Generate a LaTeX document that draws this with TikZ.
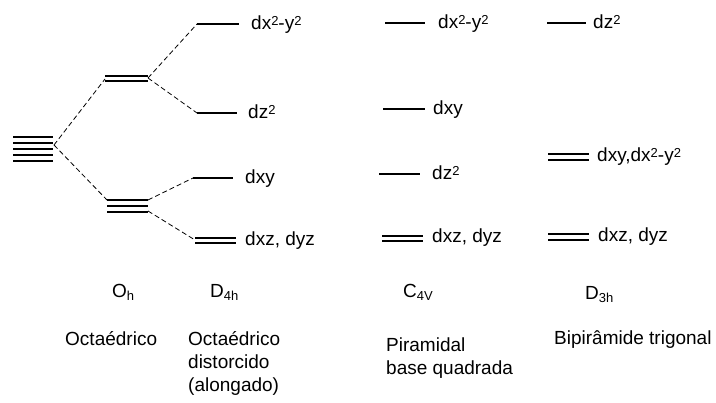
\documentclass[tikz,border=0pt]{standalone}
\usepackage{fontspec}
\setmainfont{Liberation Sans}
\newcommand\supii{\raisebox{4pt}{\fontsize{13}{13}\selectfont 2}}
\newcommand\subsy[1]{\raisebox{-2.5pt}{\fontsize{13}{13}\selectfont #1}}

\begin{document}
\begin{tikzpicture}[x=1pt,y=-1pt,node font=\fontsize{19}{23}\selectfont,
lvl/.style={line width=1.2pt},
orb/.style={anchor=west,inner sep=0pt,text height=14pt,text depth=4pt},
lbl/.style={anchor=base west,inner sep=0pt,align=left}]
\useasboundingbox (0,0) rectangle (716,403);
% levels
\foreach \y in {137,143,...,161} \draw[lvl] (13,\y) -- (53,\y);
\foreach \y in {76,81} \draw[lvl] (105,\y) -- (148,\y);
\foreach \y in {200,206,212} \draw[lvl] (107,\y) -- (148,\y);
\draw[lvl] (197,24) coordinate (x2y2) -- (239,24);
\draw[lvl] (197,113) coordinate (z2) -- (237,113);
\draw[lvl] (193,178) coordinate (xy) -- (233,178);
\foreach \y in {238,243} \draw[lvl] (195,\y) -- (236,\y);
\draw[lvl] (385,23) -- (425,23) (383,109) -- (425,109) (379,174) -- (420,174);
\foreach \y in {236,241} \draw[lvl] (382,\y) -- (423,\y);
\draw[lvl] (547,23) -- (586,23);
\foreach \y in {154,160,234,240} \draw[lvl] (548,\y) -- (589,\y);
\coordinate (oh) at (54,145);
\coordinate (eg-l) at (105,79);
\coordinate (eg-r) at (148,78);
\coordinate (t2g-l) at (107,200);
\coordinate (t2g-a) at (148,200);
\coordinate (t2g-b) at (148,211);
\coordinate (xzyz) at (195,240);
\begin{scope}[line width=0.8pt,dash pattern=on 5pt off 3pt]
\draw (oh) -- (eg-l) (oh) -- (t2g-l);
\draw (eg-r) -- (x2y2) (eg-r) -- (z2);
\draw (t2g-a) -- (xy) (t2g-b) -- (xzyz);
\end{scope}
% orbitals
\node[orb] (d4-x2y2) at (251,25) {dx\supii-y\supii};
\node[orb] (d4-z2) at (248,114) {dz\supii};
\node[orb] (d4-xy) at (245,179) {dxy};
\node[orb] (d4-xzyz) at (245,241) {dxz, dyz};
\node[orb] (c4-x2y2) at (438,24) {dx\supii-y\supii};
\node[orb] (c4-xy) at (433,110) {dxy};
\node[orb] (c4-z2) at (432,175) {dz\supii};
\node[orb] (c4-xzyz) at (432,238) {dxz, dyz};
\node[orb] (d3-z2) at (593,24) {dz\supii};
\node[orb] (d3-xy) at (597,157) {dxy,dx\supii-y\supii};
\node[orb] (d3-xzyz) at (598,237) {dxz, dyz};
% groups
\node[lbl] (g-oh) at (112,298) {O\subsy{h}};
\node[lbl] (g-d4h) at (210,298) {D\subsy{4h}};
\node[lbl] (g-c4v) at (403,298) {C\subsy{4V}};
\node[lbl] (g-d3h) at (585,300) {D\subsy{3h}};
\node[lbl] (n-oct) at (65,346) {Octaédrico};
\node[lbl] (n-dist) at (188,392) {Octaédrico\\distorcido\\(alongado)};
\node[lbl] (n-pir) at (386,375) {Piramidal\\base quadrada};
\node[lbl] (n-bip) at (554,345) {Bipirâmide trigonal};
\end{tikzpicture}
\end{document}
